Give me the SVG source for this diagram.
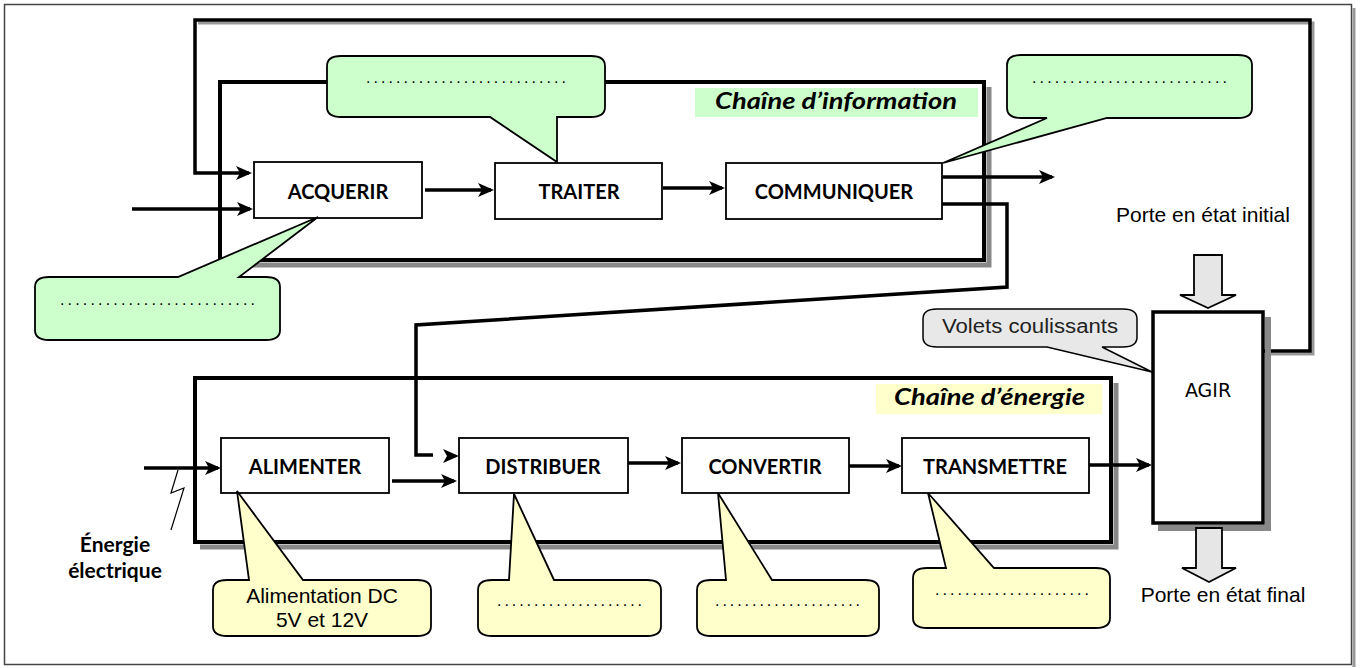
<svg xmlns="http://www.w3.org/2000/svg" width="1364" height="668" viewBox="0 0 1364 668">
<style>
.frame{fill:#fff;stroke:#444;stroke-width:1.5}
.chain{fill:none;stroke:#000;stroke-width:4}
.shadow{fill:none;stroke:#888;stroke-width:5}
.box{fill:#fff;stroke:#000;stroke-width:1.8}
.agir{fill:#fff;stroke:#000;stroke-width:3.5}
.lbl{font-family:Lato,"Liberation Sans",sans-serif;font-weight:bold;font-size:20px;fill:#000;text-anchor:middle}
.chainlbl{font-family:Lato,"Liberation Sans",sans-serif;font-weight:bold;font-style:italic;font-size:22px;fill:#000}
.arr{fill:none;stroke:#000;stroke-width:3.5}
.loop{fill:none;stroke:#000;stroke-width:3.5}
.green{fill:#ccffcc;stroke:#000;stroke-width:1.8;stroke-linejoin:miter}
.yellow{fill:#ffffcc;stroke:#000;stroke-width:1.8}
.gray{fill:#e8e8e8;stroke:#000;stroke-width:1.5}
.dots{font-family:"Liberation Sans",sans-serif;font-size:16px;fill:#000}
.arial{font-family:"Liberation Sans",Arial,sans-serif;font-size:21px;fill:#000}
.block{fill:#e6e6e6;stroke:#000;stroke-width:1.8}
.src{font-family:Lato,"Liberation Sans",sans-serif;font-weight:bold;font-size:21px;fill:#000;text-anchor:middle}
</style>
<defs>
<marker id="ah" markerUnits="userSpaceOnUse" viewBox="0 0 16 14" refX="13" refY="7" markerWidth="16" markerHeight="14" orient="auto">
<path d="M0,0 L16,7 L0,14 L4,7 Z" fill="#000"/>
</marker>
</defs>

<g id="frame">
<rect class="frame" x="4.5" y="4.5" width="1347" height="660"/>
<path d="M1354,8 V667" stroke="#999" stroke-width="3" fill="none"/>
</g>

<g id="chaine-information">
<path class="shadow" d="M989,87 V265 H226"/>
<rect class="chain" x="220" y="82" width="764" height="178"/>
<rect x="695" y="88" width="283" height="29" fill="#ccffcc"/>
<text class="chainlbl" x="715" y="109" textLength="242" lengthAdjust="spacingAndGlyphs">Chaîne d’information</text>
</g>

<g id="chaine-energie">
<path class="shadow" d="M1116,383 V547 H200"/>
<rect class="chain" x="195" y="378" width="916" height="164"/>
<rect x="876" y="384" width="226" height="30" fill="#ffffcc"/>
<text class="chainlbl" x="894" y="405" textLength="191" lengthAdjust="spacingAndGlyphs">Chaîne d’énergie</text>
</g>

<g id="connectors">
<path d="M1266,354 H1313 V23 H198" fill="none" stroke="#999" stroke-width="3"/>
<path class="loop" d="M1263,351 H1310 V20 H195 V173 H249" marker-end="url(#ah)"/>
<path class="arr" d="M132,209 H250" marker-end="url(#ah)"/>
<path class="arr" d="M425,190 H491" marker-end="url(#ah)"/>
<path class="arr" d="M663,188 H722" marker-end="url(#ah)"/>
<path class="arr" d="M942,177 H1052" marker-end="url(#ah)"/>
<path class="arr" d="M942,204 H1007 V287 L416,325 V455 H433"/>
<path d="M443,449 L459,456 L443,463 L447,456 Z" fill="#000"/>
<path class="arr" d="M144,468 H218" marker-end="url(#ah)"/>
<path class="arr" d="M392,481 H454" marker-end="url(#ah)"/>
<path class="arr" d="M628,463 H678" marker-end="url(#ah)"/>
<path class="arr" d="M849,466 H899" marker-end="url(#ah)"/>
<path class="arr" d="M1089,465 H1149" marker-end="url(#ah)"/>
<polyline points="178,470 171,493 184,488 171,530" fill="none" stroke="#000" stroke-width="1.2"/>
</g>

<g id="acquerir">
<rect class="box" x="254" y="162" width="168" height="56"/>
<text class="lbl" x="338" y="199">ACQUERIR</text>
</g>
<g id="traiter">
<rect class="box" x="495" y="163" width="167" height="56"/>
<text class="lbl" x="579" y="199">TRAITER</text>
</g>
<g id="communiquer">
<rect class="box" x="726" y="163" width="216" height="56"/>
<text class="lbl" x="834" y="199">COMMUNIQUER</text>
</g>

<g id="alimenter">
<rect class="box" x="221" y="438" width="168" height="55"/>
<text class="lbl" x="305" y="474">ALIMENTER</text>
</g>
<g id="distribuer">
<rect class="box" x="459" y="438" width="169" height="55"/>
<text class="lbl" x="543" y="474">DISTRIBUER</text>
</g>
<g id="convertir">
<rect class="box" x="682" y="438" width="167" height="55"/>
<text class="lbl" x="765" y="474">CONVERTIR</text>
</g>
<g id="transmettre">
<rect class="box" x="902" y="438" width="187" height="55"/>
<text class="lbl" x="995" y="474">TRANSMETTRE</text>
</g>

<g id="agir">
<path d="M1268,317 V528 H1158" fill="none" stroke="#888" stroke-width="6"/>
<rect class="agir" x="1153" y="312" width="110" height="211"/>
<text x="1208" y="397" font-family="'DejaVu Sans',sans-serif" font-size="19" text-anchor="middle" fill="#000">AGIR</text>
</g>

<g id="etat-initial">
<text class="arial" x="1203" y="222" text-anchor="middle">Porte en état initial</text>
<path class="block" d="M1194,255 H1222 V295 H1236 L1208,308 L1180,295 H1194 Z"/>
</g>
<g id="etat-final">
<path class="block" d="M1196,528 H1222 V568 H1236 L1209,582 L1182,568 H1196 Z"/>
<text class="arial" x="1223" y="602" text-anchor="middle">Porte en état final</text>
</g>

<g id="energie-electrique">
<text class="src" x="115" y="552">Énergie</text>
<text class="src" x="115" y="578">électrique</text>
</g>

<g id="callout-acquerir">
<path class="green" d="M49,277 H178 L318,217 L239,277 H266 Q280,277 280,287 V330 Q280,340 266,340 H49 Q35,340 35,330 V287 Q35,277 49,277 Z"/>
<text class="dots" x="60" y="305" textLength="195" lengthAdjust="spacing">..........................</text>
</g>
<g id="callout-traiter">
<path class="green" d="M341,56 H591 Q605,56 605,66 V107 Q605,117 591,117 H557 L557,162 L490,117 H341 Q327,117 327,107 V66 Q327,56 341,56 Z"/>
<text class="dots" x="366" y="83" textLength="200" lengthAdjust="spacing">...........................</text>
</g>
<g id="callout-communiquer">
<path class="green" d="M1021,55 H1238 Q1252,55 1252,65 V108 Q1252,118 1238,118 H1107 L943,163 L1047,118 H1021 Q1007,118 1007,108 V65 Q1007,55 1021,55 Z"/>
<text class="dots" x="1032" y="83" textLength="195" lengthAdjust="spacing">..........................</text>
</g>
<g id="callout-volets">
<path class="gray" d="M937,309 H1123 Q1137,309 1137,319 V337 Q1137,347 1123,347 H1102 L1152,372 L1047,347 H937 Q923,347 923,337 V319 Q923,309 937,309 Z"/>
<text x="942" y="333" font-family="'Liberation Sans',sans-serif" font-size="20" fill="#222" textLength="176" lengthAdjust="spacingAndGlyphs">Volets coulissants</text>
</g>

<g id="callout-alimenter">
<path class="yellow" d="M227,580 H249 L237,491 L303,580 H417 Q431,580 431,590 V626 Q431,636 417,636 H227 Q213,636 213,626 V590 Q213,580 227,580 Z"/>
<text class="arial" x="322" y="603" text-anchor="middle">Alimentation DC</text>
<text class="arial" x="322" y="627" text-anchor="middle">5V et 12V</text>
</g>
<g id="callout-distribuer">
<path class="yellow" d="M492,580 H509 L514,494 L554,580 H647 Q661,580 661,590 V626 Q661,636 647,636 H492 Q478,636 478,626 V590 Q478,580 492,580 Z"/>
<text class="dots" x="497" y="606" textLength="145" lengthAdjust="spacing">....................</text>
</g>
<g id="callout-convertir">
<path class="yellow" d="M711,580 H726 L718,493 L772,580 H865 Q879,580 879,590 V626 Q879,636 865,636 H711 Q697,636 697,626 V590 Q697,580 711,580 Z"/>
<text class="dots" x="715" y="606" textLength="145" lengthAdjust="spacing">....................</text>
</g>
<g id="callout-transmettre">
<path class="yellow" d="M927,568 H946 L928,493 L994,568 H1096 Q1110,568 1110,578 V618 Q1110,628 1096,628 H927 Q913,628 913,618 V578 Q913,568 927,568 Z"/>
<text class="dots" x="935" y="595" textLength="154" lengthAdjust="spacing">.....................</text>
</g>
</svg>
